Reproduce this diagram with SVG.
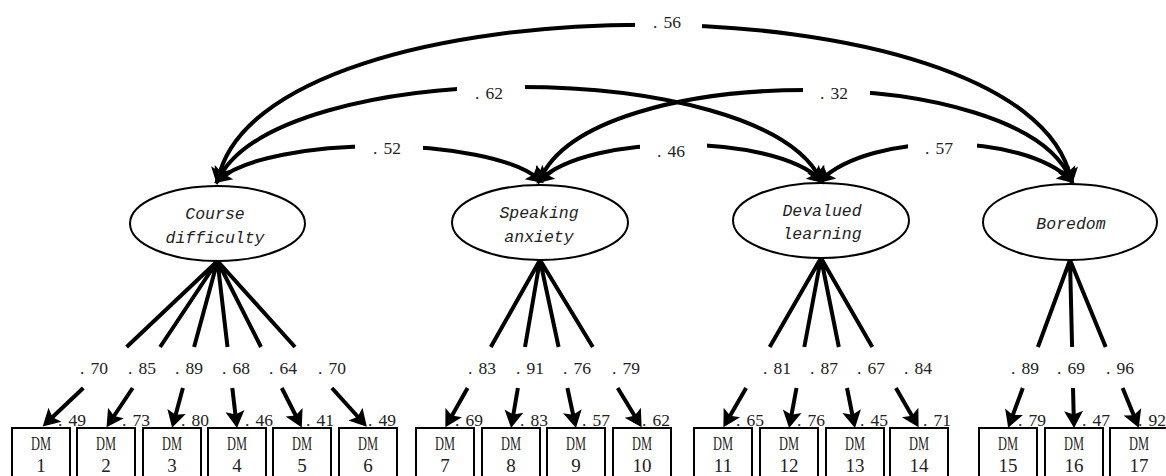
<svg xmlns="http://www.w3.org/2000/svg" width="1166" height="476" viewBox="0 0 1166 476">
<style>
.lat{fill:#fff;stroke:#000;stroke-width:2}
.ind{fill:#fff;stroke:#000;stroke-width:2}
.con{fill:none;stroke:#000;stroke-width:4}
.arr{marker-end:url(#ah)}
.cov{marker-start:url(#ah);marker-end:url(#ah)}
.lbl{font-family:"Liberation Serif","Times New Roman",serif;font-size:17.5px;fill:#222}
.lt{font-family:"Liberation Mono","DejaVu Sans Mono",monospace;font-size:16.5px;font-style:italic;fill:#222;text-anchor:middle}
.bt{font-family:"Liberation Serif","Times New Roman",serif;font-size:19px;fill:#222;text-anchor:middle}
.dm{font-size:19.5px}
.gap{fill:#fff}
</style>
<defs>
<marker id="ah" markerUnits="userSpaceOnUse" markerWidth="22" markerHeight="22" viewBox="-13 -11 22 22" refX="0" refY="0" orient="auto-start-reverse" overflow="visible">
<path d="M5,0 L-12,-9.5 L-8.5,0 L-12,9.5 Z" fill="#000"/>
</marker>
</defs>

<g id="latent-course-difficulty">
<ellipse class="lat" cx="217.5" cy="223.5" rx="87.5" ry="37.5"/>
<text class="lt" x="215" y="218.5">Course</text>
<text class="lt" x="215" y="243">difficulty</text>
</g>
<g id="latent-speaking-anxiety">
<ellipse class="lat" cx="540" cy="222.5" rx="88" ry="37.5"/>
<text class="lt" x="539" y="218">Speaking</text>
<text class="lt" x="539" y="242">anxiety</text>
</g>
<g id="latent-devalued-learning">
<ellipse class="lat" cx="821" cy="220.5" rx="88" ry="37.5"/>
<text class="lt" x="822" y="215.5">Devalued</text>
<text class="lt" x="822" y="239">learning</text>
</g>
<g id="latent-boredom">
<ellipse class="lat" cx="1070" cy="222" rx="87" ry="38"/>
<text class="lt" x="1071" y="228.5">Boredom</text>
</g>

<g id="dm1"><rect class="ind" x="12" y="428" width="58" height="60"/><text class="bt dm" x="41" y="450" textLength="20" lengthAdjust="spacingAndGlyphs">DM</text><text class="bt" x="41" y="471.5">1</text></g>
<g id="dm2"><rect class="ind" x="77" y="428" width="58" height="60"/><text class="bt dm" x="106" y="450" textLength="20" lengthAdjust="spacingAndGlyphs">DM</text><text class="bt" x="106" y="471.5">2</text></g>
<g id="dm3"><rect class="ind" x="143" y="428" width="58" height="60"/><text class="bt dm" x="172" y="450" textLength="20" lengthAdjust="spacingAndGlyphs">DM</text><text class="bt" x="172" y="471.5">3</text></g>
<g id="dm4"><rect class="ind" x="208" y="428" width="58" height="60"/><text class="bt dm" x="237" y="450" textLength="20" lengthAdjust="spacingAndGlyphs">DM</text><text class="bt" x="237" y="471.5">4</text></g>
<g id="dm5"><rect class="ind" x="273" y="428" width="58" height="60"/><text class="bt dm" x="302" y="450" textLength="20" lengthAdjust="spacingAndGlyphs">DM</text><text class="bt" x="302" y="471.5">5</text></g>
<g id="dm6"><rect class="ind" x="339" y="428" width="58" height="60"/><text class="bt dm" x="368" y="450" textLength="20" lengthAdjust="spacingAndGlyphs">DM</text><text class="bt" x="368" y="471.5">6</text></g>
<g id="dm7"><rect class="ind" x="416" y="428" width="58" height="60"/><text class="bt dm" x="445" y="450" textLength="20" lengthAdjust="spacingAndGlyphs">DM</text><text class="bt" x="445" y="471.5">7</text></g>
<g id="dm8"><rect class="ind" x="482" y="428" width="58" height="60"/><text class="bt dm" x="511" y="450" textLength="20" lengthAdjust="spacingAndGlyphs">DM</text><text class="bt" x="511" y="471.5">8</text></g>
<g id="dm9"><rect class="ind" x="547" y="428" width="58" height="60"/><text class="bt dm" x="576" y="450" textLength="20" lengthAdjust="spacingAndGlyphs">DM</text><text class="bt" x="576" y="471.5">9</text></g>
<g id="dm10"><rect class="ind" x="613" y="428" width="58" height="60"/><text class="bt dm" x="642" y="450" textLength="20" lengthAdjust="spacingAndGlyphs">DM</text><text class="bt" x="642" y="471.5">10</text></g>
<g id="dm11"><rect class="ind" x="694" y="428" width="58" height="60"/><text class="bt dm" x="723" y="450" textLength="20" lengthAdjust="spacingAndGlyphs">DM</text><text class="bt" x="723" y="471.5">11</text></g>
<g id="dm12"><rect class="ind" x="760" y="428" width="58" height="60"/><text class="bt dm" x="789" y="450" textLength="20" lengthAdjust="spacingAndGlyphs">DM</text><text class="bt" x="789" y="471.5">12</text></g>
<g id="dm13"><rect class="ind" x="826" y="428" width="58" height="60"/><text class="bt dm" x="855" y="450" textLength="20" lengthAdjust="spacingAndGlyphs">DM</text><text class="bt" x="855" y="471.5">13</text></g>
<g id="dm14"><rect class="ind" x="890" y="428" width="58" height="60"/><text class="bt dm" x="919" y="450" textLength="20" lengthAdjust="spacingAndGlyphs">DM</text><text class="bt" x="919" y="471.5">14</text></g>
<g id="dm15"><rect class="ind" x="979" y="428" width="58" height="60"/><text class="bt dm" x="1008" y="450" textLength="20" lengthAdjust="spacingAndGlyphs">DM</text><text class="bt" x="1008" y="471.5">15</text></g>
<g id="dm16"><rect class="ind" x="1045" y="428" width="58" height="60"/><text class="bt dm" x="1074" y="450" textLength="20" lengthAdjust="spacingAndGlyphs">DM</text><text class="bt" x="1074" y="471.5">16</text></g>
<g id="dm17"><rect class="ind" x="1110" y="428" width="58" height="60"/><text class="bt dm" x="1139" y="450" textLength="20" lengthAdjust="spacingAndGlyphs">DM</text><text class="bt" x="1139" y="471.5">17</text></g>

<g id="connectors">
<!-- covariances -->
<path class="con cov" d="M218,180 C260,-27 1030,-27 1071,180"/>
<path class="con cov" d="M218,180 C278,56 761,56 821,180"/>
<path class="con cov" d="M218,180 C270,135 488,135 540,180"/>
<path class="con cov" d="M540,180 C590,60 1022,60 1071,180"/>
<path class="con cov" d="M540,180 C590,133 771,133 821,180"/>
<path class="con cov" d="M821,180 C871,132 1021,132 1071,180"/>
<rect class="gap" x="635" y="12" width="67" height="24"/>
<rect class="gap" x="457" y="77" width="68" height="24"/>
<rect class="gap" x="803" y="79" width="67" height="25"/>
<rect class="gap" x="355" y="135" width="68" height="24"/>
<rect class="gap" x="640" y="134" width="67" height="26"/>
<rect class="gap" x="908" y="133" width="69" height="25"/>
<text class="lbl" x="653" y="28">.<tspan dx="6">56</tspan></text>
<text class="lbl" x="475" y="99">.<tspan dx="6">62</tspan></text>
<text class="lbl" x="820" y="99">.<tspan dx="6">32</tspan></text>
<text class="lbl" x="373" y="154">.<tspan dx="6">52</tspan></text>
<text class="lbl" x="657" y="157">.<tspan dx="6">46</tspan></text>
<text class="lbl" x="925" y="154">.<tspan dx="6">57</tspan></text>

<!-- loadings: upper segments -->
<path class="con" d="M217.5,261 L126.6,347 M217.5,261 L160.1,347 M217.5,261 L194.1,347 M217.5,261 L227.5,347 M217.5,261 L261,347 M217.5,261 L295,347"/>
<path class="con" d="M540,260 L490.8,347 M540,260 L525,347 M540,260 L558.6,347 M540,260 L592.8,347"/>
<path class="con" d="M821,258 L769.7,347 M821,258 L804.3,347 M821,258 L838.8,347 M821,258 L872.3,347"/>
<path class="con" d="M1070,260 L1037.9,347 M1070,260 L1072.1,347 M1070,260 L1105.7,347"/>
<!-- loadings: lower segments with arrows -->
<line class="con arr" x1="83.3" y1="388" x2="46.3" y2="423"/>
<line class="con arr" x1="132.7" y1="388" x2="109.3" y2="423"/>
<line class="con arr" x1="182.9" y1="388" x2="173.4" y2="423"/>
<line class="con arr" x1="232.3" y1="388" x2="236.4" y2="423"/>
<line class="con arr" x1="281.8" y1="388" x2="299.5" y2="423"/>
<line class="con arr" x1="331.9" y1="388" x2="363.5" y2="423"/>
<line class="con arr" x1="467.6" y1="388" x2="447.8" y2="423"/>
<line class="con arr" x1="517.9" y1="388" x2="511.9" y2="423"/>
<line class="con arr" x1="567.4" y1="388" x2="574.9" y2="423"/>
<line class="con arr" x1="617.7" y1="388" x2="639" y2="423"/>
<line class="con arr" x1="746.1" y1="388" x2="725.9" y2="423"/>
<line class="con arr" x1="796.5" y1="388" x2="790" y2="423"/>
<line class="con arr" x1="847" y1="388" x2="854" y2="423"/>
<line class="con arr" x1="895.9" y1="388" x2="916.1" y2="423"/>
<line class="con arr" x1="1022.8" y1="388" x2="1009.9" y2="423"/>
<line class="con arr" x1="1073" y1="388" x2="1073.9" y2="423"/>
<line class="con arr" x1="1122.6" y1="388" x2="1136.9" y2="423"/>
<!-- loading labels -->
<text class="lbl" x="80" y="374">.<tspan dx="6">70</tspan></text>
<text class="lbl" x="128" y="374">.<tspan dx="6">85</tspan></text>
<text class="lbl" x="175" y="374">.<tspan dx="6">89</tspan></text>
<text class="lbl" x="222" y="374">.<tspan dx="6">68</tspan></text>
<text class="lbl" x="269" y="374">.<tspan dx="6">64</tspan></text>
<text class="lbl" x="318" y="374">.<tspan dx="6">70</tspan></text>
<text class="lbl" x="468" y="374">.<tspan dx="6">83</tspan></text>
<text class="lbl" x="516" y="374">.<tspan dx="6">91</tspan></text>
<text class="lbl" x="563" y="374">.<tspan dx="6">76</tspan></text>
<text class="lbl" x="612" y="374">.<tspan dx="6">79</tspan></text>
<text class="lbl" x="763" y="374">.<tspan dx="6">81</tspan></text>
<text class="lbl" x="810" y="374">.<tspan dx="6">87</tspan></text>
<text class="lbl" x="857" y="374">.<tspan dx="6">67</tspan></text>
<text class="lbl" x="904" y="374">.<tspan dx="6">84</tspan></text>
<text class="lbl" x="1011" y="374">.<tspan dx="6">89</tspan></text>
<text class="lbl" x="1057" y="374">.<tspan dx="6">69</tspan></text>
<text class="lbl" x="1106" y="374">.<tspan dx="6">96</tspan></text>
<!-- residual labels -->
<text class="lbl" x="58" y="426">.<tspan dx="6">49</tspan></text>
<text class="lbl" x="122" y="426">.<tspan dx="6">73</tspan></text>
<text class="lbl" x="181" y="426">.<tspan dx="6">80</tspan></text>
<text class="lbl" x="245" y="426">.<tspan dx="6">46</tspan></text>
<text class="lbl" x="306" y="426">.<tspan dx="6">41</tspan></text>
<text class="lbl" x="368" y="426">.<tspan dx="6">49</tspan></text>
<text class="lbl" x="455" y="426">.<tspan dx="6">69</tspan></text>
<text class="lbl" x="520" y="426">.<tspan dx="6">83</tspan></text>
<text class="lbl" x="582" y="426">.<tspan dx="6">57</tspan></text>
<text class="lbl" x="642" y="426">.<tspan dx="6">62</tspan></text>
<text class="lbl" x="736" y="426">.<tspan dx="6">65</tspan></text>
<text class="lbl" x="797" y="426">.<tspan dx="6">76</tspan></text>
<text class="lbl" x="860" y="426">.<tspan dx="6">45</tspan></text>
<text class="lbl" x="923" y="426">.<tspan dx="6">71</tspan></text>
<text class="lbl" x="1018" y="426">.<tspan dx="6">79</tspan></text>
<text class="lbl" x="1082" y="426">.<tspan dx="6">47</tspan></text>
<text class="lbl" x="1138" y="426">.<tspan dx="6">92</tspan></text>
</g>
</svg>
